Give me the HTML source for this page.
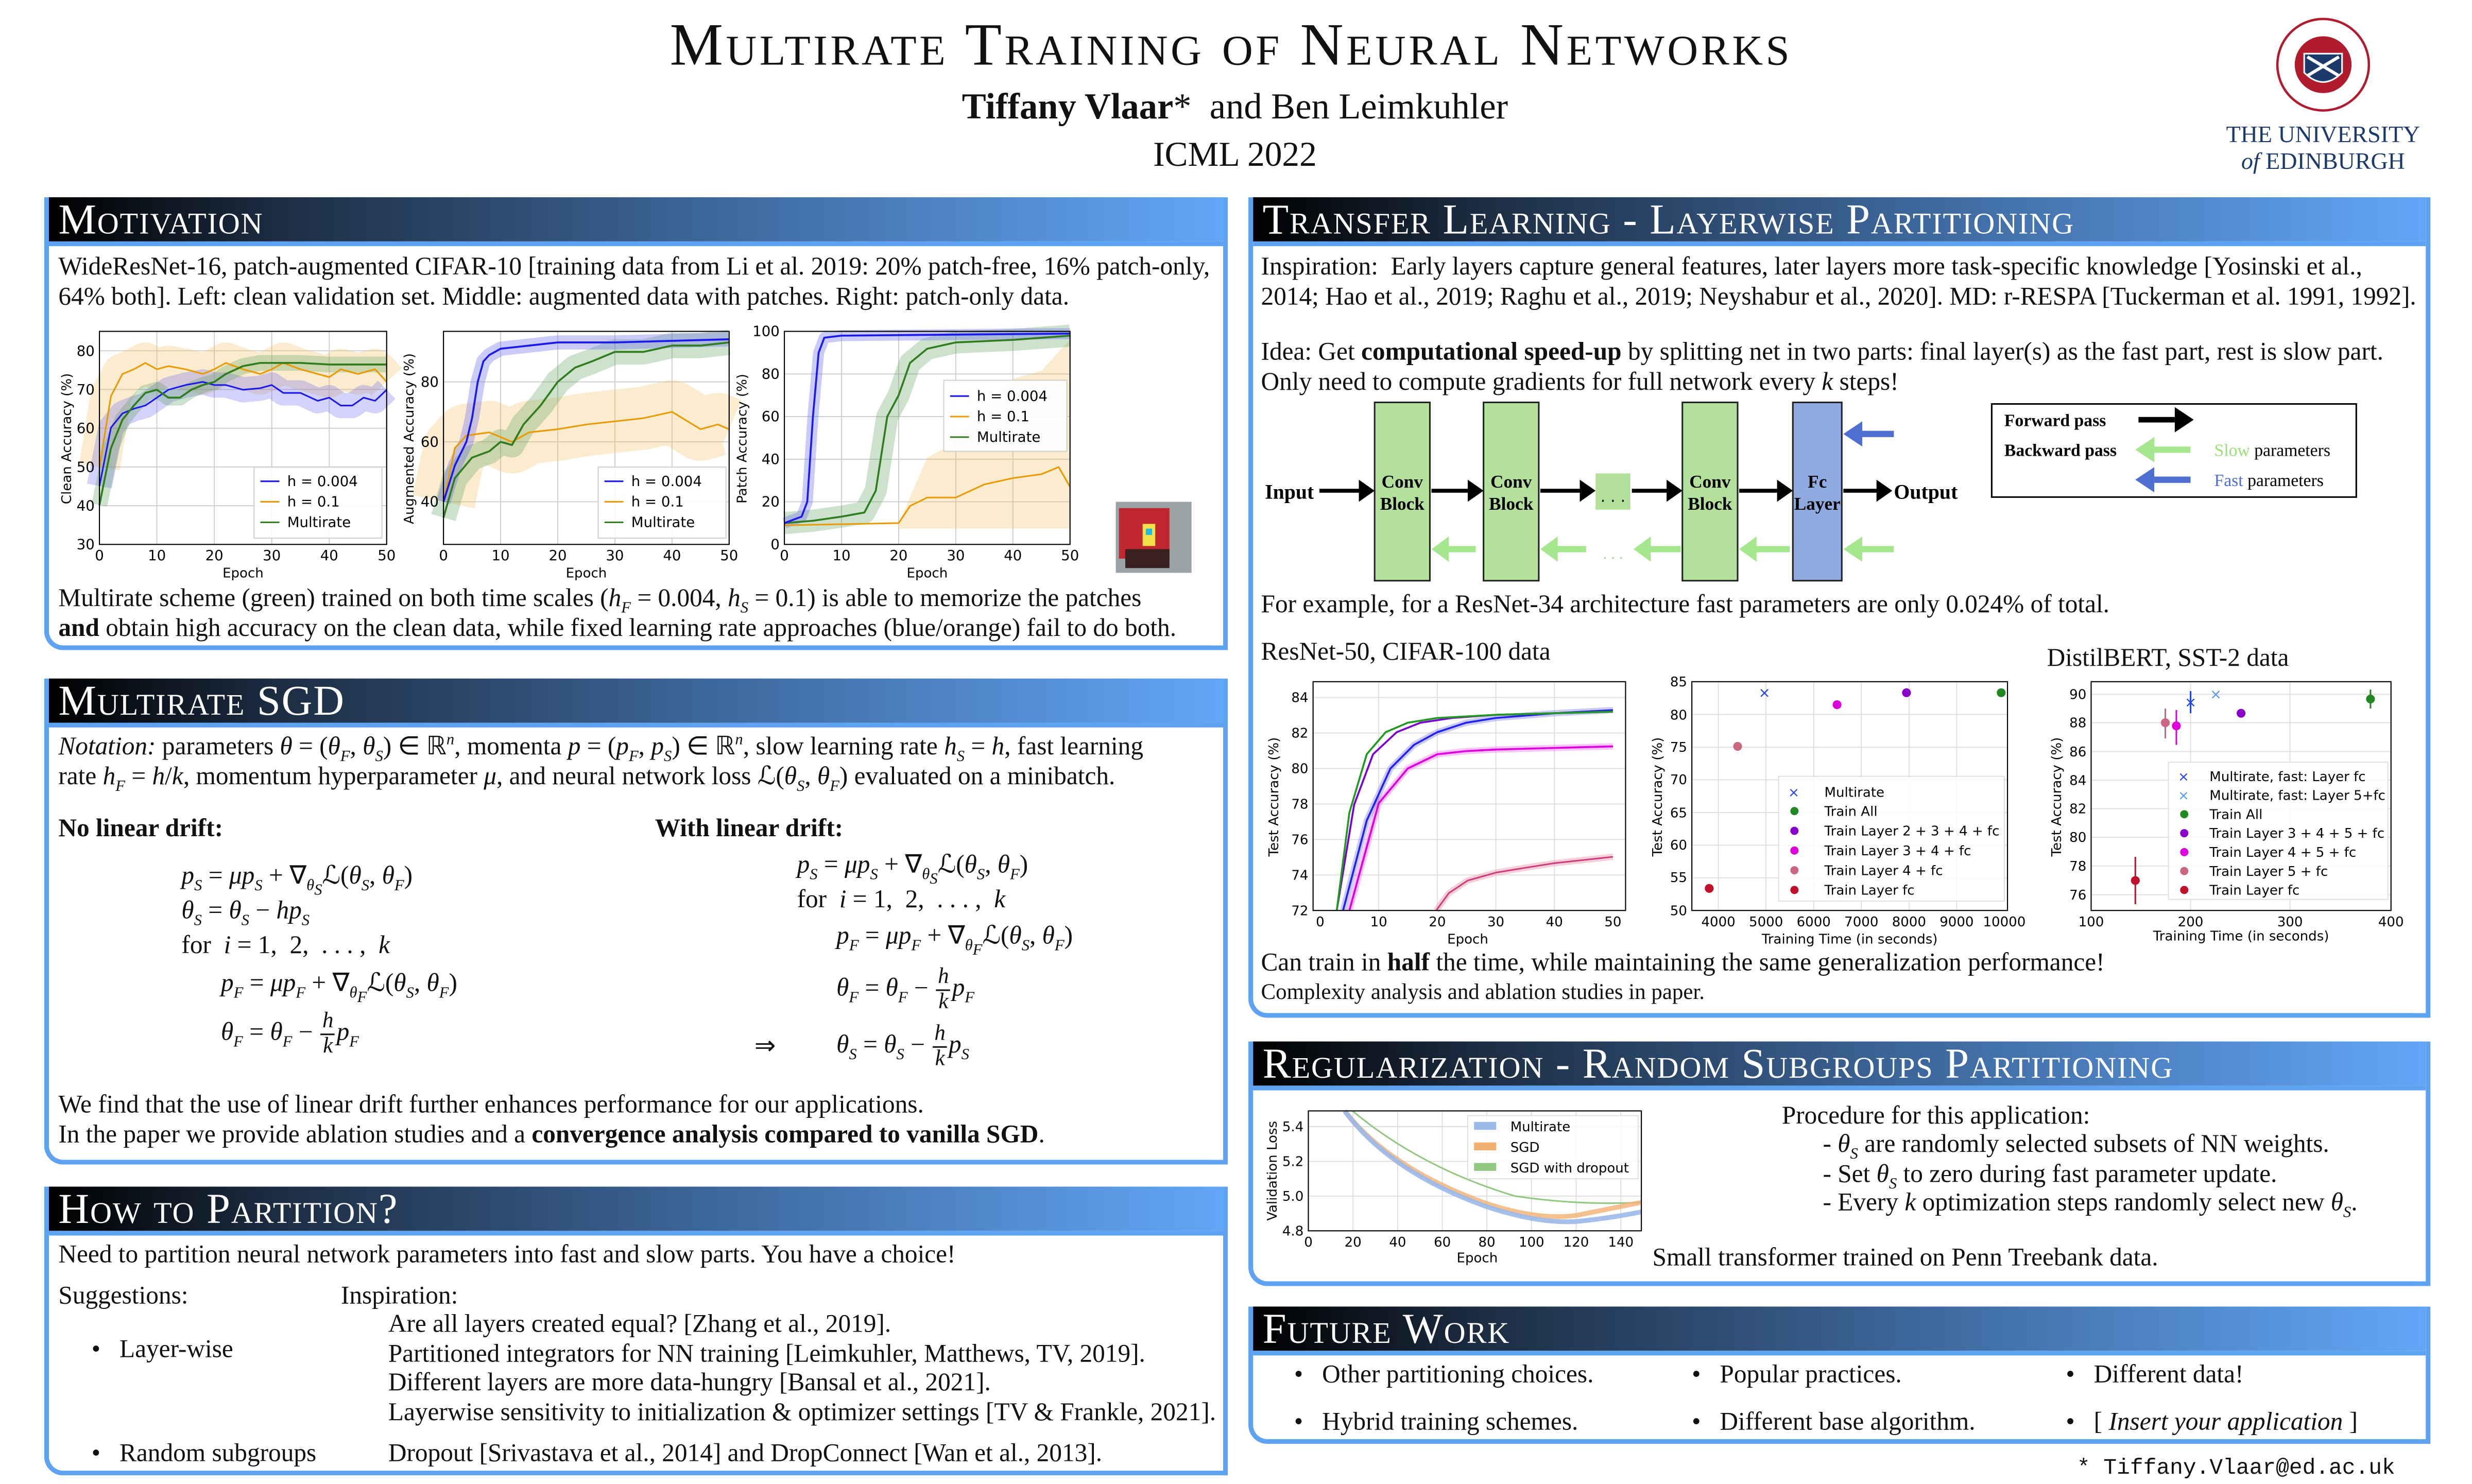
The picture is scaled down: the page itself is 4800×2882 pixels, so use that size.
<!DOCTYPE html>
<html><head><meta charset="utf-8">
<style>
html,body{margin:0;padding:0;background:#fff;}
body{width:4800px;height:2880px;overflow:hidden;position:relative;}
#w{position:absolute;left:0;top:0;width:1566px;height:940px;transform:scale(3.0645);transform-origin:0 0;font-family:"Liberation Serif",serif;color:#111;}
.t{position:absolute;white-space:nowrap;font-size:16.1px;line-height:18.5px;}
sub,sup{line-height:0;font-size:10px}
.box{position:absolute;border:3px solid #5ea2f2;border-top:none;border-bottom-left-radius:12px;box-sizing:border-box;background:#fff;}
.hd{position:absolute;left:0;right:0;top:0;height:28px;background:linear-gradient(90deg,#000 0%,#1d2e44 20%,#3c6598 55%,#62a6f7 100%);color:#fff;font-variant:small-caps;font-size:27px;line-height:29px;padding-left:6px;letter-spacing:0.6px;border-bottom:3px solid #5ea2f2;overflow:hidden;}
i{font-style:italic}
.fr{display:inline-flex;flex-direction:column;text-align:center;vertical-align:middle;line-height:15px;font-size:14px;margin:0 1px}
.fr span:first-child{border-bottom:1px solid #111;padding:0 1px}
svg text{font-family:"DejaVu Sans",sans-serif;}
svg text.s{font-family:"Liberation Serif",serif;}
</style></head><body><div id="w">

<div class="t" style="left:0;width:1560px;text-align:center;top:7px;font-size:38px;line-height:44px;font-variant:small-caps;letter-spacing:1.8px;">Multirate Training of Neural Networks</div>
<div class="t" style="left:0;width:1565px;text-align:center;top:54px;font-size:23px;line-height:28px;"><b>Tiffany Vlaar</b>*&nbsp; and Ben Leimkuhler</div>
<div class="t" style="left:0;width:1565px;text-align:center;top:85px;font-size:22px;line-height:26px;">ICML 2022</div>
<svg style="position:absolute;left:1440px;top:10px" width="64" height="64" viewBox="0 0 64 64">
<circle cx="32" cy="31" r="29" fill="none" stroke="#b01c2e" stroke-width="1.5"/>
<circle cx="32" cy="31" r="18" fill="#b01c2e"/>
<path d="M20 24 L44 24 L44 36 Q32 48 20 36 Z" fill="#1b3a6b" stroke="#fff" stroke-width="1"/>
<path d="M22 26 L42 38 M42 26 L22 38" stroke="#fff" stroke-width="2"/>
</svg>
<div class="t" style="left:1404px;width:136px;text-align:center;top:78px;font-size:15px;line-height:17px;color:#1b3a6b;">THE UNIVERSITY<br><i>of</i> EDINBURGH</div>

<div class="box" style="left:28px;top:125px;width:750px;height:287px;"><div class="hd">Motivation</div></div>
<div class="t" style="left:37px;top:161px;">WideResNet-16, patch-augmented CIFAR-10 [training data from Li et al. 2019: 20% patch-free, 16% patch-only,<br>64% both]. Left: clean validation set. Middle: augmented data with patches. Right: patch-only data.</div>
<div class="t" style="left:37px;top:371px;">Multirate scheme (green) trained on both time scales (<i>h<sub>F</sub></i> = 0.004, <i>h<sub>S</sub></i> = 0.1) is able to memorize the patches<br><b>and</b> obtain high accuracy on the clean data, while fixed learning rate approaches (blue/orange) fail to do both.</div>

<div class="box" style="left:28px;top:430px;width:750px;height:308px;"><div class="hd">Multirate SGD</div></div>
<div class="t" style="left:37px;top:465px;"><i>Notation:</i> parameters <i>θ</i> = (<i>θ<sub>F</sub></i>, <i>θ<sub>S</sub></i>) ∈ ℝ<sup><i>n</i></sup>, momenta <i>p</i> = (<i>p<sub>F</sub></i>, <i>p<sub>S</sub></i>) ∈ ℝ<sup><i>n</i></sup>, slow learning rate <i>h<sub>S</sub></i> = <i>h</i>, fast learning<br>rate <i>h<sub>F</sub></i> = <i>h</i>/<i>k</i>, momentum hyperparameter <i>μ</i>, and neural network loss ℒ(<i>θ<sub>S</sub></i>, <i>θ<sub>F</sub></i>) evaluated on a minibatch.</div>
<div class="t" style="left:37px;top:517px;"><b>No linear drift:</b></div>
<div class="t" style="left:415px;top:517px;"><b>With linear drift:</b></div>
<div class="t" style="left:115px;top:547px;"><i>p<sub>S</sub></i> = <i>μp<sub>S</sub></i> + ∇<sub><i>θ<sub>S</sub></i></sub>ℒ(<i>θ<sub>S</sub></i>, <i>θ<sub>F</sub></i>)</div>
<div class="t" style="left:115px;top:569px;"><i>θ<sub>S</sub></i> = <i>θ<sub>S</sub></i> − <i>hp<sub>S</sub></i></div>
<div class="t" style="left:115px;top:591px;">for &nbsp;<i>i</i> = 1, &nbsp;2, &nbsp;. . . , &nbsp;<i>k</i></div>
<div class="t" style="left:140px;top:615px;"><i>p<sub>F</sub></i> = <i>μp<sub>F</sub></i> + ∇<sub><i>θ<sub>F</sub></i></sub>ℒ(<i>θ<sub>S</sub></i>, <i>θ<sub>F</sub></i>)</div>
<div class="t" style="left:140px;top:640px;"><i>θ<sub>F</sub></i> = <i>θ<sub>F</sub></i> − <span class="fr"><span><i>h</i></span><span><i>k</i></span></span><i>p<sub>F</sub></i></div>
<div class="t" style="left:505px;top:540px;"><i>p<sub>S</sub></i> = <i>μp<sub>S</sub></i> + ∇<sub><i>θ<sub>S</sub></i></sub>ℒ(<i>θ<sub>S</sub></i>, <i>θ<sub>F</sub></i>)</div>
<div class="t" style="left:505px;top:562px;">for &nbsp;<i>i</i> = 1, &nbsp;2, &nbsp;. . . , &nbsp;<i>k</i></div>
<div class="t" style="left:530px;top:585px;"><i>p<sub>F</sub></i> = <i>μp<sub>F</sub></i> + ∇<sub><i>θ<sub>F</sub></i></sub>ℒ(<i>θ<sub>S</sub></i>, <i>θ<sub>F</sub></i>)</div>
<div class="t" style="left:530px;top:612px;"><i>θ<sub>F</sub></i> = <i>θ<sub>F</sub></i> − <span class="fr"><span><i>h</i></span><span><i>k</i></span></span><i>p<sub>F</sub></i></div>
<div class="t" style="left:478px;top:655px;">⇒</div>
<div class="t" style="left:530px;top:648px;"><i>θ<sub>S</sub></i> = <i>θ<sub>S</sub></i> − <span class="fr"><span><i>h</i></span><span><i>k</i></span></span><i>p<sub>S</sub></i></div>
<div class="t" style="left:37px;top:692px;">We find that the use of linear drift further enhances performance for our applications.<br>In the paper we provide ablation studies and a <b>convergence analysis compared to vanilla SGD</b>.</div>

<div class="box" style="left:28px;top:752px;width:750px;height:183px;"><div class="hd">How to Partition?</div></div>
<div class="t" style="left:37px;top:787px;">Need to partition neural network parameters into fast and slow parts. You have a choice!</div>
<div class="t" style="left:37px;top:813px;">Suggestions:</div>
<div class="t" style="left:216px;top:813px;">Inspiration:</div>
<div class="t" style="left:246px;top:831px;">Are all layers created equal? [Zhang et al., 2019].<br>Partitioned integrators for NN training [Leimkuhler, Matthews, TV, 2019].<br>Different layers are more data-hungry [Bansal et al., 2021].<br>Layerwise sensitivity to initialization &amp; optimizer settings [TV &amp; Frankle, 2021].</div>
<div class="t" style="left:58px;top:847px;">•&nbsp;&nbsp; Layer-wise</div>
<div class="t" style="left:58px;top:913px;">•&nbsp;&nbsp; Random subgroups</div>
<div class="t" style="left:246px;top:913px;">Dropout [Srivastava et al., 2014] and DropConnect [Wan et al., 2013].</div>

<div class="box" style="left:791px;top:125px;width:749px;height:520px;"><div class="hd">Transfer Learning - Layerwise Partitioning</div></div>
<div class="t" style="left:799px;top:161px;">Inspiration: &nbsp;Early layers capture general features, later layers more task-specific knowledge [Yosinski et al.,<br>2014; Hao et al., 2019; Raghu et al., 2019; Neyshabur et al., 2020]. MD: r-RESPA [Tuckerman et al. 1991, 1992].</div>
<div class="t" style="left:799px;top:215px;">Idea: Get <b>computational speed-up</b> by splitting net in two parts: final layer(s) as the fast part, rest is slow part.<br>Only need to compute gradients for full network every <i>k</i> steps!</div>
<div class="t" style="left:799px;top:375px;">For example, for a ResNet-34 architecture fast parameters are only 0.024% of total.</div>
<div class="t" style="left:799px;top:405px;">ResNet-50, CIFAR-100 data</div>
<div class="t" style="left:1297px;top:409px;">DistilBERT, SST-2 data</div>
<div class="t" style="left:799px;top:602px;">Can train in <b>half</b> the time, while maintaining the same generalization performance!</div>
<div class="t" style="left:799px;top:621px;font-size:14px;">Complexity analysis and ablation studies in paper.</div>

<div class="box" style="left:791px;top:660px;width:749px;height:155px;"><div class="hd">Regularization - Random Subgroups Partitioning</div></div>
<div class="t" style="left:1129px;top:699px;">Procedure for this application:</div>
<div class="t" style="left:1155px;top:717px;">- <i>θ<sub>S</sub></i> are randomly selected subsets of NN weights.<br>- Set <i>θ<sub>S</sub></i> to zero during fast parameter update.<br>- Every <i>k</i> optimization steps randomly select new <i>θ<sub>S</sub></i>.</div>
<div class="t" style="left:1047px;top:789px;">Small transformer trained on Penn Treebank data.</div>

<div class="box" style="left:791px;top:828px;width:749px;height:87px;"><div class="hd">Future Work</div></div>
<div class="t" style="left:820px;top:863px;">•&nbsp;&nbsp; Other partitioning choices.</div>
<div class="t" style="left:820px;top:893px;">•&nbsp;&nbsp; Hybrid training schemes.</div>
<div class="t" style="left:1072px;top:863px;">•&nbsp;&nbsp; Popular practices.</div>
<div class="t" style="left:1072px;top:893px;">•&nbsp;&nbsp; Different base algorithm.</div>
<div class="t" style="left:1309px;top:863px;">•&nbsp;&nbsp; Different data!</div>
<div class="t" style="left:1309px;top:893px;">•&nbsp;&nbsp; [ <i>Insert your application</i> ]</div>
<div class="t" style="left:1316px;top:922px;font-family:'Liberation Mono',monospace;font-size:14px;">* Tiffany.Vlaar@ed.ac.uk</div>

<svg style="position:absolute;left:0;top:0" width="1566" height="940" viewBox="0 0 1566 940" font-size="9">
<!-- Plot 1 -->
<g>
<g stroke="#ccc" stroke-width="0.6">
<line x1="63" x2="245" y1="320.5" y2="320.5"/><line x1="63" x2="245" y1="295.9" y2="295.9"/><line x1="63" x2="245" y1="271.4" y2="271.4"/><line x1="63" x2="245" y1="246.8" y2="246.8"/><line x1="63" x2="245" y1="222.3" y2="222.3"/>
<line x1="99.4" x2="99.4" y1="210" y2="345"/><line x1="135.8" x2="135.8" y1="210" y2="345"/><line x1="172.2" x2="172.2" y1="210" y2="345"/><line x1="208.6" x2="208.6" y1="210" y2="345"/>
</g>
<g fill="none" stroke-linejoin="round">
<path stroke="#f5c060" stroke-opacity="0.3" stroke-width="26" d="M63,296 L70.3,251 L77.6,237 L84.8,234 L92.1,230 L99.4,234 L106.7,232 L117.6,234 L128.5,237 L135.8,234 L143.1,230 L154,234 L164.9,237 L172.2,234 L179.5,230 L190.4,234 L201.3,237 L208.6,239 L215.9,234 L226.8,237 L237.7,234 L245,242"/>
<path stroke="#6a6af0" stroke-opacity="0.3" stroke-width="16" d="M63,308 L70.3,271 L77.6,262 L84.8,259 L92.1,257 L99.4,252 L106.7,247 L117.6,244 L128.5,242 L135.8,244 L143.1,244 L154,247 L164.9,246 L172.2,244 L179.5,249 L190.4,249 L201.3,254 L208.6,252 L215.9,257 L223.2,257 L230.4,252 L237.7,254 L245,247"/>
<path stroke="#5aa05a" stroke-opacity="0.3" stroke-width="10" d="M63,320 L70.3,284 L77.6,266 L84.8,257 L92.1,249 L99.4,247 L106.7,252 L114,252 L121.2,247 L128.5,244 L135.8,242 L143.1,237 L154,232 L164.9,230 L172.2,230 L190.4,230 L208.6,231 L226.8,231 L245,231"/>
<path stroke="#e89a00" stroke-width="1" d="M63,296 L70.3,251 L77.6,237 L84.8,234 L92.1,230 L99.4,234 L106.7,232 L117.6,234 L128.5,237 L135.8,234 L143.1,230 L154,234 L164.9,237 L172.2,234 L179.5,230 L190.4,234 L201.3,237 L208.6,239 L215.9,234 L226.8,237 L237.7,234 L245,242"/>
<path stroke="#1a1aee" stroke-width="1" d="M63,308 L70.3,271 L77.6,262 L84.8,259 L92.1,257 L99.4,252 L106.7,247 L117.6,244 L128.5,242 L135.8,244 L143.1,244 L154,247 L164.9,246 L172.2,244 L179.5,249 L190.4,249 L201.3,254 L208.6,252 L215.9,257 L223.2,257 L230.4,252 L237.7,254 L245,247"/>
<path stroke="#2f7d1e" stroke-width="1.2" d="M63,320 L70.3,284 L77.6,266 L84.8,257 L92.1,249 L99.4,247 L106.7,252 L114,252 L121.2,247 L128.5,244 L135.8,242 L143.1,237 L154,232 L164.9,230 L172.2,230 L190.4,230 L208.6,231 L226.8,231 L245,231"/>
</g>
<rect x="63" y="210" width="182" height="135" fill="none" stroke="#000" stroke-width="0.7"/>
<rect x="161" y="296" width="81" height="45" fill="#fff" fill-opacity="0.85" stroke="#ccc" stroke-width="0.6"/>
<line x1="165" x2="177" y1="305" y2="305" stroke="#1a1aee"/><text x="182" y="308">h = 0.004</text>
<line x1="165" x2="177" y1="318" y2="318" stroke="#e89a00"/><text x="182" y="321">h = 0.1</text>
<line x1="165" x2="177" y1="331" y2="331" stroke="#2f7d1e"/><text x="182" y="334">Multirate</text>
<g text-anchor="end"><text x="60" y="348">30</text><text x="60" y="323.5">40</text><text x="60" y="299">50</text><text x="60" y="274.5">60</text><text x="60" y="250">70</text><text x="60" y="225.5">80</text></g>
<g text-anchor="middle"><text x="63" y="355">0</text><text x="99.4" y="355">10</text><text x="135.8" y="355">20</text><text x="172.2" y="355">30</text><text x="208.6" y="355">40</text><text x="245" y="355">50</text><text x="154" y="366" font-size="8.5">Epoch</text>
<text transform="translate(45,278) rotate(-90)" font-size="8.5">Clean Accuracy (%)</text></g>
</g>
<!-- Plot 2 -->
<g>
<g stroke="#ccc" stroke-width="0.6">
<line x1="281" x2="462" y1="318" y2="318"/><line x1="281" x2="462" y1="280" y2="280"/><line x1="281" x2="462" y1="242" y2="242"/>
<line x1="317.2" x2="317.2" y1="210" y2="345"/><line x1="353.4" x2="353.4" y1="210" y2="345"/><line x1="389.6" x2="389.6" y1="210" y2="345"/><line x1="425.8" x2="425.8" y1="210" y2="345"/>
</g>
<g fill="none" stroke-linejoin="round">
<path stroke="#f5c060" stroke-opacity="0.3" stroke-width="40" d="M281,318 L288.2,284 L295.5,276 L310,274 L324.4,280 L335.3,274 L353.4,272 L371.5,269 L389.6,267 L407.7,265 L425.8,261 L443.9,272 L454.8,269 L462,272"/>
<path stroke="#5aa05a" stroke-opacity="0.3" stroke-width="16" d="M281,328 L288.2,303 L299.1,290 L310,286 L317.2,280 L324.4,282 L331.7,269 L342.5,257 L353.4,242 L364.3,233 L375.1,229 L389.6,223 L407.7,223 L425.8,219 L443.9,219 L462,217"/>
<path stroke="#6a6af0" stroke-opacity="0.35" stroke-width="9" d="M281,318 L288.2,295 L295.5,280 L299.1,265 L302.7,242 L306.3,229 L310,225 L317.2,221 L335.3,219 L353.4,217 L389.6,217 L462,215"/>
<path stroke="#e89a00" stroke-width="1" d="M281,318 L288.2,284 L295.5,276 L310,274 L324.4,280 L335.3,274 L353.4,272 L371.5,269 L389.6,267 L407.7,265 L425.8,261 L443.9,272 L454.8,269 L462,272"/>
<path stroke="#2f7d1e" stroke-width="1.2" d="M281,328 L288.2,303 L299.1,290 L310,286 L317.2,280 L324.4,282 L331.7,269 L342.5,257 L353.4,242 L364.3,233 L375.1,229 L389.6,223 L407.7,223 L425.8,219 L443.9,219 L462,217"/>
<path stroke="#1a1aee" stroke-width="1.2" d="M281,318 L288.2,295 L295.5,280 L299.1,265 L302.7,242 L306.3,229 L310,225 L317.2,221 L335.3,219 L353.4,217 L389.6,217 L462,215"/>
</g>
<rect x="281" y="210" width="181" height="135" fill="none" stroke="#000" stroke-width="0.7"/>
<rect x="379" y="296" width="81" height="45" fill="#fff" fill-opacity="0.85" stroke="#ccc" stroke-width="0.6"/>
<line x1="383" x2="395" y1="305" y2="305" stroke="#1a1aee"/><text x="400" y="308">h = 0.004</text>
<line x1="383" x2="395" y1="318" y2="318" stroke="#e89a00"/><text x="400" y="321">h = 0.1</text>
<line x1="383" x2="395" y1="331" y2="331" stroke="#2f7d1e"/><text x="400" y="334">Multirate</text>
<g text-anchor="end"><text x="278" y="321">40</text><text x="278" y="283">60</text><text x="278" y="245">80</text></g>
<g text-anchor="middle"><text x="281" y="355">0</text><text x="317.2" y="355">10</text><text x="353.4" y="355">20</text><text x="389.6" y="355">30</text><text x="425.8" y="355">40</text><text x="462" y="355">50</text><text x="371.5" y="366" font-size="8.5">Epoch</text>
<text transform="translate(262,278) rotate(-90)" font-size="8.5">Augmented Accuracy (%)</text></g>
</g>
<!-- Plot 3 -->
<g>
<g stroke="#ccc" stroke-width="0.6">
<line x1="497" x2="678" y1="318" y2="318"/><line x1="497" x2="678" y1="291" y2="291"/><line x1="497" x2="678" y1="264" y2="264"/><line x1="497" x2="678" y1="237" y2="237"/>
<line x1="533.2" x2="533.2" y1="210" y2="345"/><line x1="569.4" x2="569.4" y1="210" y2="345"/><line x1="605.6" x2="605.6" y1="210" y2="345"/><line x1="641.8" x2="641.8" y1="210" y2="345"/>
</g>
<polygon points="569.4,332 576.6,315 587.5,290 605.6,280 623.7,260 641.8,240 659.9,235 678,215 678,335 569.4,335" fill="#f5c060" fill-opacity="0.3"/>
<g fill="none" stroke-linejoin="round">
<path stroke="#5aa05a" stroke-opacity="0.3" stroke-width="14" d="M497,331.5 L515.1,330 L533.2,327.4 L547.7,324.8 L554.9,311 L562.2,264 L569.4,250.5 L576.6,230 L587.5,221 L605.6,217 L641.8,215.4 L678,212.7"/>
<path stroke="#6a6af0" stroke-opacity="0.35" stroke-width="7" d="M497,331.5 L507.9,327.4 L511.5,318 L515.1,264 L518.7,223.5 L522.3,214 L533.2,212.7 L678,211.4"/>
<path stroke="#e89a00" stroke-width="1" d="M497,332.9 L569.4,331.5 L576.6,320.7 L587.5,315.3 L605.6,315.3 L623.7,307 L641.8,303 L659.9,300.5 L670.8,296 L678,308.5"/>
<path stroke="#2f7d1e" stroke-width="1.2" d="M497,331.5 L515.1,330 L533.2,327.4 L547.7,324.8 L554.9,311 L562.2,264 L569.4,250.5 L576.6,230 L587.5,221 L605.6,217 L641.8,215.4 L678,212.7"/>
<path stroke="#1a1aee" stroke-width="1.2" d="M497,331.5 L507.9,327.4 L511.5,318 L515.1,264 L518.7,223.5 L522.3,214 L533.2,212.7 L678,211.4"/>
</g>
<rect x="497" y="210" width="181" height="135" fill="none" stroke="#000" stroke-width="0.7"/>
<rect x="598" y="241" width="78" height="45" fill="#fff" fill-opacity="0.9" stroke="#ccc" stroke-width="0.6"/>
<line x1="602" x2="614" y1="251" y2="251" stroke="#1a1aee"/><text x="619" y="254">h = 0.004</text>
<line x1="602" x2="614" y1="264" y2="264" stroke="#e89a00"/><text x="619" y="267">h = 0.1</text>
<line x1="602" x2="614" y1="277" y2="277" stroke="#2f7d1e"/><text x="619" y="280">Multirate</text>
<g text-anchor="end"><text x="494" y="348">0</text><text x="494" y="321">20</text><text x="494" y="294">40</text><text x="494" y="267">60</text><text x="494" y="240">80</text><text x="494" y="213">100</text></g>
<g text-anchor="middle"><text x="497" y="355">0</text><text x="533.2" y="355">10</text><text x="569.4" y="355">20</text><text x="605.6" y="355">30</text><text x="641.8" y="355">40</text><text x="678" y="355">50</text><text x="587.5" y="366" font-size="8.5">Epoch</text>
<text transform="translate(473,278) rotate(-90)" font-size="8.5">Patch Accuracy (%)</text></g>
</g>
<rect x="707" y="318" width="48" height="45" fill="#9aa2a6"/>
<rect x="709" y="322" width="32" height="32" fill="#c0262e"/>
<rect x="713" y="348" width="28" height="12" fill="#3a2020"/>
<rect x="724" y="332" width="8" height="14" fill="#f4e04a"/><rect x="726" y="335" width="4" height="4" fill="#2bd"/>

<!-- Diagram -->
<g stroke="#222" stroke-width="1">
<rect x="871" y="255" width="35" height="113" fill="#b3e09a"/>
<rect x="940" y="255" width="35" height="113" fill="#b3e09a"/>
<rect x="1066" y="255" width="35" height="113" fill="#b3e09a"/>
<rect x="1136" y="255" width="31" height="113" fill="#8eaae0"/>
</g>
<rect x="1011" y="300" width="22" height="23" fill="#b3e09a"/>
<text x="1022" y="318" text-anchor="middle" font-size="10">. . .</text>
<text x="1022" y="354" text-anchor="middle" font-size="8" fill="#8fd07a">. . .</text>
<g font-weight="bold" font-size="11.5" text-anchor="middle">
<text class="s" x="888.5" y="309">Conv</text><text class="s" x="888.5" y="323">Block</text>
<text class="s" x="957.5" y="309">Conv</text><text class="s" x="957.5" y="323">Block</text>
<text class="s" x="1083.5" y="309">Conv</text><text class="s" x="1083.5" y="323">Block</text>
<text class="s" x="1151.5" y="309">Fc</text><text class="s" x="1151.5" y="323">Layer</text>
<text class="s" x="817" y="316" font-size="13">Input</text>
</g>
<text class="s" x="1200" y="316" font-size="13" font-weight="bold">Output</text>
<g stroke="#000" stroke-width="2.5">
<line x1="836" y1="311" x2="862" y2="311"/><line x1="907" y1="311" x2="931" y2="311"/><line x1="976" y1="311" x2="1002" y2="311"/><line x1="1034" y1="311" x2="1057" y2="311"/><line x1="1102" y1="311" x2="1127" y2="311"/><line x1="1168" y1="311" x2="1190" y2="311"/>
</g>
<g fill="#000">
<polygon points="871,311 861,304 861,318"/><polygon points="940,311 930,304 930,318"/><polygon points="1011,311 1001,304 1001,318"/><polygon points="1066,311 1056,304 1056,318"/><polygon points="1136,311 1126,304 1126,318"/><polygon points="1199,311 1189,304 1189,318"/>
</g>
<g stroke="#a6e68f" stroke-width="4">
<line x1="917" y1="348" x2="935" y2="348"/><line x1="986" y1="348" x2="1005" y2="348"/><line x1="1046" y1="348" x2="1065" y2="348"/><line x1="1111" y1="348" x2="1134" y2="348"/><line x1="1179" y1="348" x2="1200" y2="348"/>
</g>
<g fill="#a6e68f">
<polygon points="907,348 918,340 918,356"/><polygon points="976,348 987,340 987,356"/><polygon points="1035,348 1046,340 1046,356"/><polygon points="1102,348 1113,340 1113,356"/><polygon points="1168,348 1180,340 1180,356"/>
</g>
<line x1="1178" y1="275" x2="1200" y2="275" stroke="#4f6fd0" stroke-width="4"/><polygon points="1168,275 1180,267 1180,283" fill="#4f6fd0"/>
<rect x="1262" y="256" width="231" height="59" fill="#fff" stroke="#000" stroke-width="1"/>
<g font-size="11">
<text class="s" x="1270" y="270" font-weight="bold">Forward pass</text>
<text class="s" x="1270" y="289" font-weight="bold">Backward pass</text>
<text class="s" x="1403" y="289"><tspan fill="#9ae07a">Slow</tspan> parameters</text>
<text class="s" x="1403" y="308"><tspan fill="#4f6fd0">Fast</tspan> parameters</text>
</g>
<line x1="1355" y1="266" x2="1378" y2="266" stroke="#000" stroke-width="3.5"/><polygon points="1390,266 1378,258 1378,274" fill="#000"/>
<line x1="1365" y1="285" x2="1388" y2="285" stroke="#a6e68f" stroke-width="4"/><polygon points="1353,285 1365,277 1365,293" fill="#a6e68f"/>
<line x1="1365" y1="304" x2="1388" y2="304" stroke="#4f6fd0" stroke-width="4"/><polygon points="1353,304 1365,296 1365,312" fill="#4f6fd0"/>

<!-- ResNet plot -->
<g font-size="8.5">
<g stroke="#ddd" stroke-width="0.6">
<line x1="832" x2="1030" y1="442" y2="442"/><line x1="832" x2="1030" y1="464.5" y2="464.5"/><line x1="832" x2="1030" y1="487" y2="487"/><line x1="832" x2="1030" y1="509.5" y2="509.5"/><line x1="832" x2="1030" y1="532" y2="532"/><line x1="832" x2="1030" y1="554.5" y2="554.5"/>
<line x1="873.6" x2="873.6" y1="432" y2="577"/><line x1="910.7" x2="910.7" y1="432" y2="577"/><line x1="947.8" x2="947.8" y1="432" y2="577"/><line x1="984.9" x2="984.9" y1="432" y2="577"/>
</g>
<g fill="none" stroke-linejoin="round">
<path stroke="#f0a0b0" stroke-opacity="0.5" stroke-width="4" d="M910,577 L918,566 L930,558 L947.8,553 L966,550 L985,547 L1022,543"/>
<path stroke="#c83e7e" stroke-width="1" d="M910,577 L918,566 L930,558 L947.8,553 L966,550 L985,547 L1022,543"/>
<path stroke="#ee55ee" stroke-opacity="0.35" stroke-width="4" d="M855,577 L873.6,509 L892,487 L910.7,478 L929,476 L947.8,475 L984.9,474 L1022,473"/>
<path stroke="#dd00dd" stroke-width="1.2" d="M855,577 L873.6,509 L892,487 L910.7,478 L929,476 L947.8,475 L984.9,474 L1022,473"/>
<path stroke="#6a6af0" stroke-opacity="0.35" stroke-width="4" d="M851,577 L866,520 L881,487 L896,472 L910.7,464 L929,458 L947.8,455 L984.9,452 L1022,450"/>
<path stroke="#2222ee" stroke-width="1.2" d="M851,577 L866,520 L881,487 L896,472 L910.7,464 L929,458 L947.8,455 L984.9,452 L1022,450"/>
<path stroke="#7a00d0" stroke-width="1.2" d="M847,577 L858,510 L870,478 L885,464 L900,458 L920,455 L947.8,453 L1022,451"/>
<path stroke="#229922" stroke-width="1.2" d="M847,577 L855,515 L866,478 L878,464 L892,458 L910.7,455 L947.8,453 L1022,451"/>
</g>
<rect x="832" y="432" width="198" height="145" fill="none" stroke="#000" stroke-width="0.7"/>
<g text-anchor="end"><text x="829" y="580">72</text><text x="829" y="557.5">74</text><text x="829" y="535">76</text><text x="829" y="512.5">78</text><text x="829" y="490">80</text><text x="829" y="467.5">82</text><text x="829" y="445">84</text></g>
<g text-anchor="middle"><text x="836.5" y="587">0</text><text x="873.6" y="587">10</text><text x="910.7" y="587">20</text><text x="947.8" y="587">30</text><text x="984.9" y="587">40</text><text x="1022" y="587">50</text><text x="930" y="598">Epoch</text>
<text transform="translate(810,505) rotate(-90)">Test Accuracy (%)</text></g>
</g>
<!-- Scatter mid -->
<g font-size="8.5">
<g stroke="#ddd" stroke-width="0.6">
<line x1="1072" x2="1272" y1="556.3" y2="556.3"/><line x1="1072" x2="1272" y1="535.6" y2="535.6"/><line x1="1072" x2="1272" y1="514.9" y2="514.9"/><line x1="1072" x2="1272" y1="494.2" y2="494.2"/><line x1="1072" x2="1272" y1="473.5" y2="473.5"/><line x1="1072" x2="1272" y1="452.8" y2="452.8"/>
<line x1="1088.8" x2="1088.8" y1="432" y2="577"/><line x1="1119" x2="1119" y1="432" y2="577"/><line x1="1149.2" x2="1149.2" y1="432" y2="577"/><line x1="1179.4" x2="1179.4" y1="432" y2="577"/><line x1="1209.6" x2="1209.6" y1="432" y2="577"/><line x1="1239.8" x2="1239.8" y1="432" y2="577"/>
</g>
<rect x="1072" y="432" width="200" height="145" fill="none" stroke="#000" stroke-width="0.7"/>
<circle cx="1083" cy="563" r="2.8" fill="#c0102a"/>
<circle cx="1101" cy="473" r="2.8" fill="#cc6680"/>
<text x="1118" y="442" fill="#2244ee" text-anchor="middle" font-size="9">×</text>
<circle cx="1164" cy="446.6" r="2.8" fill="#dd00dd"/>
<circle cx="1208" cy="439" r="2.8" fill="#8800cc"/>
<circle cx="1268" cy="439" r="2.8" fill="#228822"/>
<rect x="1127" y="492" width="143" height="79" fill="#fff" fill-opacity="0.85" stroke="#ddd" stroke-width="0.6"/>
<text x="1133" y="505" fill="#2244ee">×</text><text x="1156" y="505">Multirate</text>
<circle cx="1137" cy="514" r="2.6" fill="#228822"/><text x="1156" y="517">Train All</text>
<circle cx="1137" cy="526.5" r="2.6" fill="#8800cc"/><text x="1156" y="529.5">Train Layer 2 + 3 + 4 + fc</text>
<circle cx="1137" cy="539" r="2.6" fill="#dd00dd"/><text x="1156" y="542">Train Layer 3 + 4 + fc</text>
<circle cx="1137" cy="551.5" r="2.6" fill="#cc6680"/><text x="1156" y="554.5">Train Layer 4 + fc</text>
<circle cx="1137" cy="564" r="2.6" fill="#c0102a"/><text x="1156" y="567">Train Layer fc</text>
<g text-anchor="end"><text x="1069" y="580">50</text><text x="1069" y="559">55</text><text x="1069" y="538.5">60</text><text x="1069" y="518">65</text><text x="1069" y="497">70</text><text x="1069" y="476.5">75</text><text x="1069" y="456">80</text><text x="1069" y="435">85</text></g>
<g text-anchor="middle"><text x="1088.8" y="587">4000</text><text x="1119" y="587">5000</text><text x="1149.2" y="587">6000</text><text x="1179.4" y="587">7000</text><text x="1209.6" y="587">8000</text><text x="1239.8" y="587">9000</text><text x="1270" y="587">10000</text><text x="1172" y="598">Training Time (in seconds)</text>
<text transform="translate(1053,505) rotate(-90)">Test Accuracy (%)</text></g>
</g>
<!-- Scatter right -->
<g font-size="8.5">
<g stroke="#ddd" stroke-width="0.6">
<line x1="1325" x2="1515" y1="440" y2="440"/><line x1="1325" x2="1515" y1="458" y2="458"/><line x1="1325" x2="1515" y1="476.3" y2="476.3"/><line x1="1325" x2="1515" y1="494.4" y2="494.4"/><line x1="1325" x2="1515" y1="512.5" y2="512.5"/><line x1="1325" x2="1515" y1="530.6" y2="530.6"/><line x1="1325" x2="1515" y1="548.8" y2="548.8"/><line x1="1325" x2="1515" y1="567" y2="567"/>
<line x1="1388" x2="1388" y1="432" y2="577"/><line x1="1451" x2="1451" y1="432" y2="577"/>
</g>
<rect x="1325" y="432" width="190" height="145" fill="none" stroke="#000" stroke-width="0.7"/>
<g stroke-width="1"><line x1="1353" x2="1353" y1="543" y2="573" stroke="#c0102a"/><line x1="1372" x2="1372" y1="449" y2="468" stroke="#cc6680"/><line x1="1379" x2="1379" y1="450" y2="472" stroke="#dd00dd"/><line x1="1388" x2="1388" y1="438" y2="452" stroke="#2244ee"/><line x1="1502" x2="1502" y1="437" y2="449" stroke="#228822"/></g>
<circle cx="1353" cy="558" r="2.8" fill="#c0102a"/>
<circle cx="1372" cy="458" r="2.8" fill="#cc6680"/>
<circle cx="1379" cy="460" r="2.8" fill="#dd00dd"/>
<text x="1388" y="448" fill="#2244ee" text-anchor="middle" font-size="9">×</text>
<text x="1404" y="443" fill="#5599ff" text-anchor="middle" font-size="9">×</text>
<circle cx="1420" cy="452" r="2.8" fill="#8800cc"/>
<circle cx="1502" cy="443" r="2.8" fill="#228822"/>
<rect x="1374" y="483" width="139" height="87" fill="#fff" fill-opacity="0.85" stroke="#ddd" stroke-width="0.6"/>
<text x="1380" y="495" fill="#2244ee">×</text><text x="1400" y="495">Multirate, fast: Layer fc</text>
<text x="1380" y="507" fill="#5599ff">×</text><text x="1400" y="507">Multirate, fast: Layer 5+fc</text>
<circle cx="1384" cy="516" r="2.6" fill="#228822"/><text x="1400" y="519">Train All</text>
<circle cx="1384" cy="528" r="2.6" fill="#8800cc"/><text x="1400" y="531">Train Layer 3 + 4 + 5 + fc</text>
<circle cx="1384" cy="540" r="2.6" fill="#dd00dd"/><text x="1400" y="543">Train Layer 4 + 5 + fc</text>
<circle cx="1384" cy="552" r="2.6" fill="#cc6680"/><text x="1400" y="555">Train Layer 5 + fc</text>
<circle cx="1384" cy="564" r="2.6" fill="#c0102a"/><text x="1400" y="567">Train Layer fc</text>
<g text-anchor="end"><text x="1322" y="570">76</text><text x="1322" y="551.8">78</text><text x="1322" y="533.6">80</text><text x="1322" y="515.5">82</text><text x="1322" y="497.4">84</text><text x="1322" y="479.3">86</text><text x="1322" y="461">88</text><text x="1322" y="443">90</text></g>
<g text-anchor="middle"><text x="1325" y="587">100</text><text x="1388" y="587">200</text><text x="1451" y="587">300</text><text x="1515" y="587">400</text><text x="1420" y="596">Training Time (in seconds)</text>
<text transform="translate(1306,505) rotate(-90)">Test Accuracy (%)</text></g>
</g>
<!-- Regularization plot -->
<g font-size="8.5">
<g stroke="#ddd" stroke-width="0.6">
<line x1="829" x2="1040" y1="714" y2="714"/><line x1="829" x2="1040" y1="736" y2="736"/><line x1="829" x2="1040" y1="758" y2="758"/>
<line x1="857.3" x2="857.3" y1="704" y2="780"/><line x1="885.6" x2="885.6" y1="704" y2="780"/><line x1="913.9" x2="913.9" y1="704" y2="780"/><line x1="942.1" x2="942.1" y1="704" y2="780"/><line x1="970.4" x2="970.4" y1="704" y2="780"/><line x1="998.7" x2="998.7" y1="704" y2="780"/><line x1="1027" x2="1027" y1="704" y2="780"/>
</g>
<g fill="none">
<path stroke="#90c880" stroke-width="1" d="M857,704 Q900,740 960,758 Q1000,764 1040,762"/>
<path stroke="#f2b070" stroke-width="3" stroke-opacity="0.8" d="M852,704 Q880,740 940,762 Q975,774 1000,770 Q1020,766 1040,762"/>
<path stroke="#9ab8e8" stroke-width="3" stroke-opacity="0.9" d="M852,704 Q880,742 940,764 Q975,776 1000,774 Q1020,772 1040,768"/>
</g>
<rect x="829" y="704" width="211" height="76" fill="none" stroke="#000" stroke-width="0.7"/>
<rect x="930" y="707" width="108" height="40" fill="#fff" fill-opacity="0.85" stroke="#ddd" stroke-width="0.6"/>
<rect x="934" y="711" width="14" height="5" fill="#9ab8e8"/><text x="957" y="717">Multirate</text>
<rect x="934" y="724" width="14" height="5" fill="#f2b070"/><text x="957" y="730">SGD</text>
<rect x="934" y="737" width="14" height="5" fill="#90c880"/><text x="957" y="743">SGD with dropout</text>
<g text-anchor="end"><text x="826" y="783">4.8</text><text x="826" y="761">5.0</text><text x="826" y="739">5.2</text><text x="826" y="717">5.4</text></g>
<g text-anchor="middle"><text x="829" y="790">0</text><text x="857.3" y="790">20</text><text x="885.6" y="790">40</text><text x="913.9" y="790">60</text><text x="942.1" y="790">80</text><text x="970.4" y="790">100</text><text x="998.7" y="790">120</text><text x="1027" y="790">140</text><text x="936" y="800">Epoch</text>
<text transform="translate(809,742) rotate(-90)">Validation Loss</text></g>
</g>
</svg>
</div></body></html>
